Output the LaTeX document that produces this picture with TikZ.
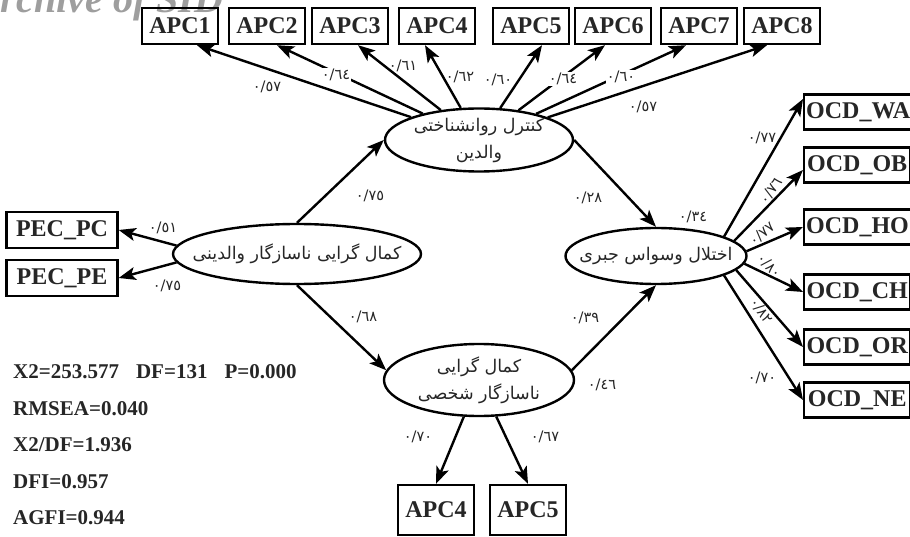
\documentclass[tikz,border=0pt]{standalone}
\usepackage{fontspec}
\setmainfont{Liberation Serif}
\newfontfamily\arabicfont[Script=Arabic]{DejaVu Sans}
\TeXXeTstate=1
\usetikzlibrary{shapes,arrows,arrows.meta,positioning}

\begin{document}
\begin{tikzpicture}[x=1pt, y=-1pt, line width=2.4pt, >={Stealth[length=17pt,width=13pt,inset=4pt]},
  obs/.style={draw, rectangle, inner sep=2pt, minimum height=36pt, minimum width=76pt, font=\fontsize{24}{28}\selectfont\bfseries, text=black!85},
  latent/.style={draw, ellipse, inner sep=0pt},
  fa/.style={font=\arabicfont\fontsize{17.5}{27}\selectfont, align=center, text=black!85},
  coef/.style={font=\arabicfont\fontsize{14.5}{16}\selectfont, inner sep=1pt, text=black!85},
  coefw/.style={coef, fill=white},
  fitline/.style={anchor=base west, inner sep=0pt, font=\fontsize{21}{25}\selectfont\bfseries, text=black!85}]

\useasboundingbox (0,0) rectangle (910,537);

\node[anchor=base west, inner sep=0pt, font=\fontsize{40}{40}\selectfont\bfseries\itshape, text=black!38] (wm) at (-27,13) {Archive of SID};

% indicators
\node[obs] (A1) at (180,26) {APC1};
\node[obs] (A2) at (267,26) {APC2};
\node[obs] (A3) at (350,26) {APC3};
\node[obs] (A4) at (437,26) {APC4};
\node[obs] (A5) at (531,26) {APC5};
\node[obs] (A6) at (613,26) {APC6};
\node[obs] (A7) at (699,26) {APC7};
\node[obs] (A8) at (782,26) {APC8};

\node[obs, minimum width=111pt] (PC) at (62,230) {PEC\_PC};
\node[obs, minimum width=111pt] (PE) at (62,278) {PEC\_PE};

\node[obs, anchor=west, minimum width=106pt, minimum height=35pt] (WA) at (803,112) {OCD\_WA};
\node[obs, anchor=west, minimum width=106pt, minimum height=35pt] (OB) at (803,165) {OCD\_OB};
\node[obs, anchor=west, minimum width=106pt, minimum height=35pt] (HO) at (803,227) {OCD\_HO};
\node[obs, anchor=west, minimum width=106pt, minimum height=35pt] (CH) at (803,292) {OCD\_CH};
\node[obs, anchor=west, minimum width=106pt, minimum height=35pt] (OR) at (803,347) {OCD\_OR};
\node[obs, anchor=west, minimum width=106pt, minimum height=35pt] (NE) at (803,400) {OCD\_NE};

\node[obs, minimum height=50pt] (B4) at (436,510) {APC4};
\node[obs, minimum height=50pt] (B5) at (528,510) {APC5};

% latent variables
\node[latent, minimum width=188pt, minimum height=63pt, label={[fa]center:{\beginR کنترل روانشناختی\endR\\\beginR والدین\endR}}] (P) at (479,140) {};
\node[latent, minimum width=248pt, minimum height=60pt, label={[fa]center:{\beginR کمال گرایی ناسازگار والدینی\endR}}] (L) at (297,254) {};
\node[latent, minimum width=181pt, minimum height=56pt, label={[fa]center:{\beginR اختلال وسواس جبری\endR}}] (R) at (656,256) {};
\node[latent, minimum width=190pt, minimum height=72pt, label={[fa]center:{\beginR کمال گرایی\endR\\\beginR ناسازگار شخصی\endR}}] (S) at (479,380) {};

\draw[->] (P) -- ([xshift=17pt]A1.south);
\draw[->] (P) -- ([xshift=10pt]A2.south);
\draw[->] (P) -- ([xshift=8pt]A3.south);
\draw[->] (P) -- ([xshift=-12pt]A4.south);
\draw[->] (P) -- ([xshift=11pt]A5.south);
\draw[->] (P) -- ([xshift=-8pt]A6.south);
\draw[->] (P) -- ([xshift=-13pt]A7.south);
\draw[->] (P) -- ([xshift=-15pt]A8.south);

\draw[->] (L.176) -- (PC.east);
\draw[->] (L.184) -- (PE.east);
\draw[->] (L.north) -- (P.west);
\draw[->] (L.south) -- (S.174);
\draw[->] (P.east) -- (R.north);
\draw[->] (S.6) -- (R.south);
\draw[->] (S) -- (B4.north);
\draw[->] (S) -- (B5.north);

\draw[->] (R.16) -- ([yshift=13pt]WA.west);
\draw[->] (R.11) -- ([yshift=-5pt]OB.west);
\draw[->] (R.3) -- (HO.west);
\draw[->] (R.-5) -- (CH.west);
\draw[->] (R.-10) -- (OR.west);
\draw[->] (R.-16) -- (NE.west);

% coefficients
\node[coef] (c1) at (267,87) {٠/٥٧};
\node[coefw] (c2) at (336,75) {٠/٦٤};
\node[coef] (c3) at (403,66) {٠/٦١};
\node[coef] (c4) at (460,77) {٠/٦٢};
\node[coef] (c5) at (498,80) {٠/٦٠};
\node[coefw] (c6) at (563,79) {٠/٦٤};
\node[coefw] (c7) at (621,77) {٠/٦٠};
\node[coef] (c8) at (643,107) {٠/٥٧};
\node[coef] (cpc) at (163,228) {٠/٥١};
\node[coef] (cpe) at (167,286) {٠/٧٥};
\node[coef] (clp) at (370,196) {٠/٧٥};
\node[coef] (cls) at (363,317) {٠/٦٨};
\node[coef] (cpr) at (588,198) {٠/٢٨};
\node[coef] (cr) at (693,217) {٠/٣٤};
\node[coef] (csr) at (585,318) {٠/٣٩};
\node[coef] (cs) at (602,385) {٠/٤٦};
\node[coef] (cb4) at (418,437) {٠/٧٠};
\node[coef] (cb5) at (545,437) {٠/٦٧};
\node[coef] (cwa) at (762,138) {٠/٧٧};
\node[coef, rotate=55] (cob) at (771,191) {٠/٧٦};
\node[coef, rotate=40] (cho) at (762,234) {٠/٧٧};
\node[coef, rotate=-45] (cch) at (769,266) {٠/٨٠};
\node[coef, rotate=-55] (cor) at (761,311) {٠/٨٢};
\node[coef] (cne) at (762,378) {٠/٧٠};

% fit indices
\node[fitline] (f1) at (12,378) {X2=253.577\hspace{17pt}DF=131\hspace{17pt}P=0.000};
\node[fitline] (f2) at (12,415) {RMSEA=0.040};
\node[fitline] (f3) at (12,451) {X2/DF=1.936};
\node[fitline] (f4) at (12,488) {DFI=0.957};
\node[fitline] (f5) at (12,524) {AGFI=0.944};

\end{tikzpicture}
\end{document}
